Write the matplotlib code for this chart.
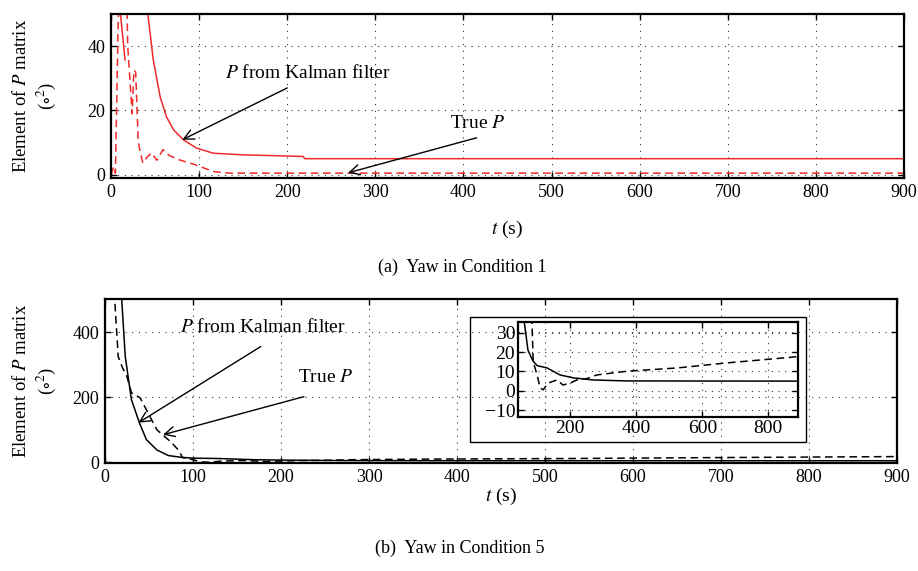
#!/usr/bin/env python
# -*- coding: utf-8 -*-
"""Yaw covariance: Kalman filter P versus true P, conditions 1 and 5."""

import matplotlib
matplotlib.use("Agg")
import matplotlib.pyplot as plt
from matplotlib.patches import Rectangle
import numpy as np

FONT_SIZE = 13
RED = "#ee2a2a"
GRID_STYLE = (0, (1, 5))

# Condition 1 (red): Kalman filter P (solid) and true P (dashed)
c1_kf_t = [10, 16, np.nan, 41, 42, 48, 56, 63, 71, 82, 97, 116, 150, 218, 220, 900]
c1_kf_p = [52, 35.7, np.nan, 52, 49.6, 35.7, 24, 18, 14, 10.9, 8.3, 6.7, 6.2, 5.7, 5.0, 5.0]
c1_true_t = [0, 3, 5, 8, 9, 18, 19, 24, 26, 28, 31, 36, 41, 46, 52, 59, 66, 78, 97, 116, 135, 900]
c1_true_p = [0, 2.5, 0.5, 45, 55, 55, 40, 19, 32.5, 32, 10, 3.7, 5.5, 6.8, 4.5, 7.8, 6.0, 4.6, 3.0, 1.0, 0.5, 0.5]

# Condition 5 (black): Kalman filter P (solid) and true P (dashed)
c5_kf_t = [15, 19, 23, 30, 39, 47, 59, 72, 87, 100, 130, 169, 209, 269, 372, 900]
c5_kf_p = [800, 500, 325, 193, 122, 70, 38, 21, 15.4, 13, 11.8, 8.2, 6.7, 5.6, 5.1, 5.0]
c5_true_t = [10, 11, 15, 20, 25, 30, 40, 51, 59, 76, 84, 88, 100, 109, 118, 133, 160, 178,
             200, 220, 250, 281, 372, 524, 675, 875, 900]
c5_true_p = [600, 500, 325, 290, 263, 214, 198, 141, 100, 60, 36, 15, 8, 1.5, 0.5, 4, 5.6, 3,
             4, 5.6, 6.3, 8.2, 10.1, 11.8, 14.4, 17.4, 17.8]

X_TICKS = list(range(0, 1000, 100))
C1_Y_TICKS = [0, 20, 40]
C5_Y_TICKS = [0, 200, 400]
INSET_X_TICKS = [200, 400, 600, 800]
INSET_Y_TICKS = [-10, 0, 10, 20, 30]

YLABEL = "Element of $P$ matrix\n($\\circ^2$)"


def style_axes(ax, xticks, yticks, labelsize=FONT_SIZE):
    ax.set_xticks(xticks)
    ax.set_yticks(yticks)
    ax.tick_params(direction="in", top=True, right=True, length=4, width=1.0,
                   labelsize=labelsize, pad=4)
    ax.grid(True, color="black", linestyle=GRID_STYLE, linewidth=0.8, alpha=0.8)
    for spine in ax.spines.values():
        spine.set_linewidth(1.6)


def arrow(ax, text, text_xy, tail, head):
    ax.text(text_xy[0], text_xy[1], text, ha="center", va="center", fontsize=14)
    ax.annotate("", xy=head, xytext=tail,
                arrowprops=dict(arrowstyle="->", color="black", lw=1.0,
                                mutation_scale=18, shrinkA=0, shrinkB=0))


def main():
    plt.rcParams.update({
        "font.family": ["Liberation Serif", "DejaVu Serif"],
        "mathtext.fontset": "stix",
        "font.size": FONT_SIZE,
    })
    fig = plt.figure(figsize=(9.18, 5.71), dpi=100)

    # (a) condition 1
    ax1 = fig.add_axes([0.1209, 0.6883, 0.8638, 0.2872])
    ax1.plot(c1_kf_t, c1_kf_p, color=RED, lw=1.1)
    ax1.plot(c1_true_t, c1_true_p, color=RED, lw=1.1, dashes=(5, 3))
    ax1.set_xlim(0, 900)
    ax1.set_ylim(-1, 50)
    style_axes(ax1, X_TICKS, C1_Y_TICKS)
    ax1.set_xlabel("$t$ (s)", fontsize=FONT_SIZE + 1, labelpad=13)
    ax1.set_ylabel(YLABEL, fontsize=FONT_SIZE + 0.5, linespacing=1.25)
    ax1.yaxis.set_label_coords(-0.067, 0.5)
    arrow(ax1, "$P$ from Kalman filter", (224, 31.6), (200, 27.0), (81, 10.9))
    arrow(ax1, "True $P$", (416, 15.8), (415, 11.5), (269, 0.6))
    fig.text(0.504, 0.531, "(a)  Yaw in Condition 1", ha="center", va="center",
             fontsize=FONT_SIZE)

    # (b) condition 5
    ax2 = fig.add_axes([0.1144, 0.1891, 0.8627, 0.2872])
    ax2.plot(c5_kf_t, c5_kf_p, color="black", lw=1.1)
    ax2.plot(c5_true_t, c5_true_p, color="black", lw=1.1, dashes=(5, 3))
    ax2.set_xlim(0, 900)
    ax2.set_ylim(-2, 502)
    style_axes(ax2, X_TICKS, C5_Y_TICKS)
    ax2.set_xlabel("$t$ (s)", fontsize=FONT_SIZE + 1, labelpad=0)
    ax2.set_ylabel(YLABEL, fontsize=FONT_SIZE + 0.5, linespacing=1.25)
    ax2.yaxis.set_label_coords(-0.060, 0.5)
    arrow(ax2, "$P$ from Kalman filter", (180, 417), (177, 356), (38, 122))
    arrow(ax2, "True $P$", (251, 262), (226, 202), (66, 85))
    fig.text(0.501, 0.040, "(b)  Yaw in Condition 5", ha="center", va="center",
             fontsize=FONT_SIZE)

    # zoomed inset of condition 5
    fig.add_artist(Rectangle((0.512, 0.2259), 0.366, 0.2189, transform=fig.transFigure,
                             fill=False, edgecolor="black", lw=1.0))
    ax3 = fig.add_axes([0.5643, 0.2697, 0.305, 0.1664])
    ax3.patch.set_alpha(0.0)
    ax3.plot(c5_kf_t, c5_kf_p, color="black", lw=1.1)
    ax3.plot(c5_true_t, c5_true_p, color="black", lw=1.1, dashes=(5, 3))
    ax3.set_xlim(42, 890)
    ax3.set_ylim(-13.5, 35.5)
    style_axes(ax3, INSET_X_TICKS, INSET_Y_TICKS, labelsize=FONT_SIZE + 1)
    ax3.tick_params(pad=2)

    fig.savefig("out.png", dpi=100)


if __name__ == "__main__":
    main()
